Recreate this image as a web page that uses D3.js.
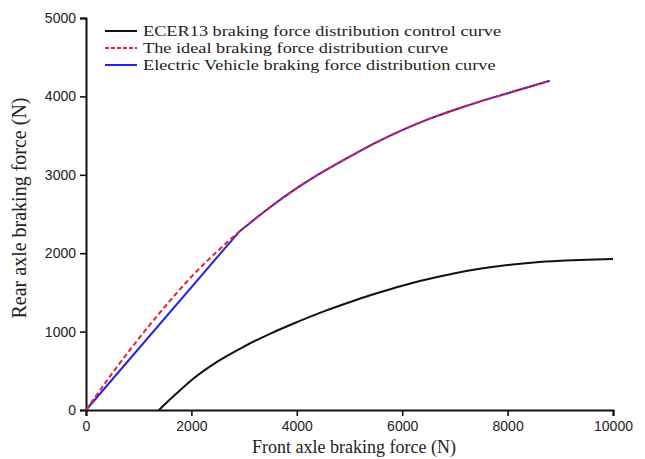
<!DOCTYPE html>
<html>
<head>
<meta charset="utf-8">
<script src="https://cdn.jsdelivr.net/npm/d3@7"></script>
<style>
body { margin: 0; background: #fff; }
</style>
</head>
<body>
<svg width="645" height="459"></svg>
<script>
// data (N)
var ecerX = [1385, 1700, 2000, 2500, 3000, 3500, 4000, 4500, 5000, 5500, 6000, 6500, 7000, 7500, 8000, 8500, 9000, 9500, 10000];
var ecerY = [0, 200, 380, 620, 810, 975, 1120, 1255, 1375, 1485, 1585, 1670, 1745, 1805, 1850, 1882, 1903, 1917, 1925];
var idealX = [0, 500, 1000, 1500, 2000, 2500, 2900, 3500, 4000, 4500, 5000, 5500, 6000, 6500, 7000, 7500, 8000, 8500, 8800];
var idealY = [0, 470, 910, 1320, 1700, 2030, 2270, 2590, 2830, 3040, 3230, 3410, 3570, 3710, 3830, 3940, 4040, 4140, 4200];
// EV curve: straight up to the ideal curve, then follows it
var evLinX = [0, 2900];
var evLinY = [0, 2270];
var evX = [2900, 3500, 4000, 4500, 5000, 5500, 6000, 6500, 7000, 7500, 8000, 8500, 8800];
var evY = [2270, 2590, 2830, 3040, 3230, 3410, 3570, 3710, 3830, 3940, 4040, 4140, 4200];
var xTicks = [0, 2000, 4000, 6000, 8000, 10000];
var yTicks = [0, 1000, 2000, 3000, 4000, 5000];
var legendNames = ['ECER13 braking force distribution control curve', 'The ideal braking force distribution curve', 'Electric Vehicle braking force distribution curve'];

var svg = d3.select('svg');
var x = d3.scaleLinear().domain([0, 10000]).range([86, 613]);
var y = d3.scaleLinear().domain([0, 5000]).range([410, 18]);

function pts(xs, ys) { return xs.map(function(v, i) { return [v, ys[i]]; }); }
var line = d3.line().x(function(d) { return x(d[0]); }).y(function(d) { return y(d[1]); }).curve(d3.curveMonotoneX);
var straight = d3.line().x(function(d) { return x(d[0]); }).y(function(d) { return y(d[1]); });

// axes
var xa = svg.append('g').attr('transform', 'translate(0,410)');
xa.call(d3.axisBottom(x).tickValues(d3.range(1000, 10000, 2000)).tickSize(4).tickFormat(''));
xa.call(d3.axisBottom(x).tickValues(xTicks).tickSize(6).tickPadding(5).tickFormat(d3.format('d')));
var ya = svg.append('g').attr('transform', 'translate(86,0)');
ya.call(d3.axisLeft(y).tickValues(d3.range(500, 5000, 1000)).tickSize(4).tickFormat(''));
ya.call(d3.axisLeft(y).tickValues(yTicks).tickSize(6).tickPadding(4).tickFormat(d3.format('d')));
svg.selectAll('.domain').attr('stroke', '#111').attr('stroke-width', 2);
svg.selectAll('.tick line').attr('stroke', '#111').attr('stroke-width', 1.6);
svg.selectAll('.tick text').attr('font-family', 'Liberation Sans, Arial, sans-serif').attr('font-size', 14).attr('fill', '#222');

svg.append('text').attr('x', 354).attr('y', 453).attr('text-anchor', 'middle')
  .attr('font-family', 'Liberation Serif, Times New Roman, serif').attr('font-size', 18).attr('fill', '#222')
  .text('Front axle braking force (N)');
svg.append('text').attr('transform', 'translate(26,208) rotate(-90)').attr('text-anchor', 'middle')
  .attr('font-family', 'Liberation Serif, Times New Roman, serif').attr('font-size', 20).attr('fill', '#222')
  .text('Rear axle braking force (N)');

// curves
svg.append('path').attr('d', line(pts(ecerX, ecerY))).attr('fill', 'none').attr('stroke', '#111').attr('stroke-width', 2);
svg.append('path').attr('d', straight(pts(evLinX, evLinY))).attr('fill', 'none').attr('stroke', '#2323e6').attr('stroke-width', 2);
svg.append('path').attr('d', line(pts(evX, evY))).attr('fill', 'none').attr('stroke', '#2323e6').attr('stroke-width', 2);
svg.append('path').attr('d', line(pts(idealX, idealY))).attr('fill', 'none').attr('stroke', '#e8222a').attr('stroke-width', 2).attr('stroke-dasharray', '5,3');

// legend
var colors = ['#111', '#e8222a', '#2323e6'];
var dashes = [null, '4,2', null];
legendNames.forEach(function(n, i) {
  var ly = 31 + i * 17;
  svg.append('line').attr('x1', 105).attr('x2', 137).attr('y1', ly).attr('y2', ly)
    .attr('stroke', colors[i]).attr('stroke-width', 2).attr('stroke-dasharray', dashes[i]);
  svg.append('text').attr('transform', 'translate(143,' + (ly + 5) + ') scale(1.22,1)')
    .attr('font-family', 'Liberation Serif, Times New Roman, serif')
    .attr('font-size', 15).attr('fill', '#222').text(n);
});
</script>
</body>
</html>
